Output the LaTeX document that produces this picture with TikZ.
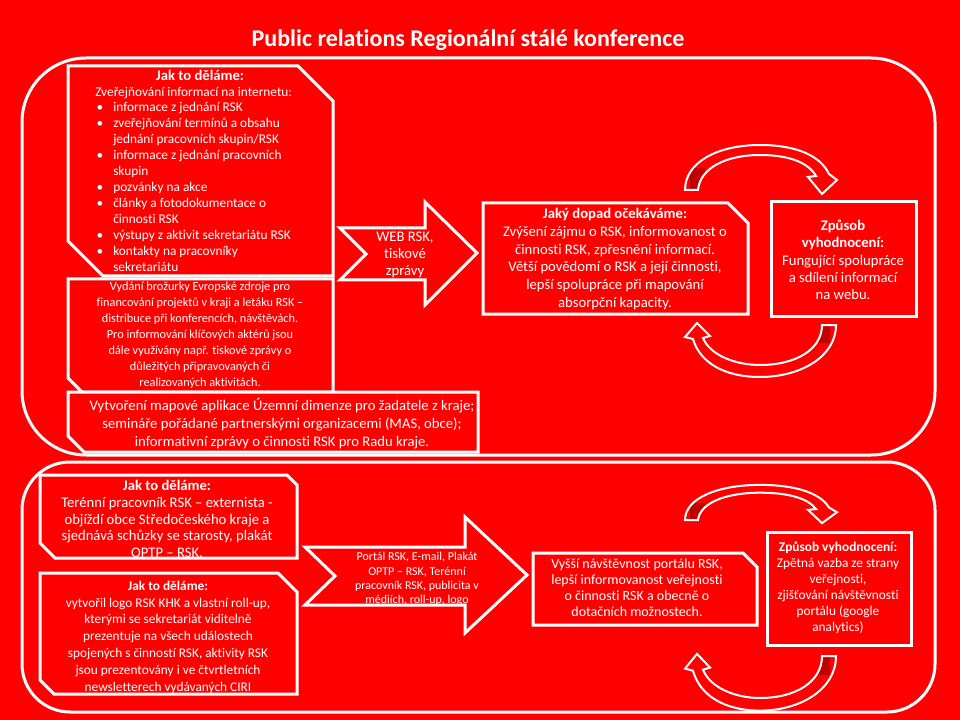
\documentclass[tikz,border=0pt]{standalone}
\usepackage{fontspec}
\setmainfont{Carlito}[Ligatures={NoCommon,NoContextual}]
\definecolor{bg}{HTML}{FF0000}
\definecolor{dk}{HTML}{C00000}
\newcommand\fs[2]{\fontsize{#1}{#2}\selectfont}
\newcommand\bline[4]{\node[txt, anchor=base west, font=\fs{10}{12}] (#1) at (#2,#3) {#4};}
\newcommand\bdot[2]{\node[txt, anchor=base, font=\fs{10}{12}] (#1) at (100,#2) {\textbullet};}
\newcommand\toparcpath{(-75,0) .. controls (-75,-28) and (-42,-45) .. (0,-45) .. controls (35,-45) and (60,-35) .. (69,-16) -- (77,-10) -- (62,4) -- (48,-13) -- (56,-14) .. controls (48,-28) and (28,-35) .. (0,-35) .. controls (-34,-35) and (-60,-22) .. (-62,0) -- cycle}
\newcommand\botarcpath{(76,0) .. controls (76,32) and (40,52) .. (0,52) .. controls (-35,52) and (-60,38) .. (-67,14) -- (-75,12) -- (-63,-2) -- (-50,11) -- (-57,13) .. controls (-50,30) and (-25,40) .. (0,40) .. controls (35,40) and (62,25) .. (62,0) -- cycle}
\tikzset{
  panel/.style={draw=white, line width=2.25pt, fill=bg, line join=miter},
  frame/.style={draw=white, line width=2.25pt},
  txt/.style={text=white, align=center, inner sep=0pt},
  arcline/.style={draw=white, line width=1.5pt, line join=miter},
}
\begin{document}
\begin{tikzpicture}[x=0.75pt,y=-0.75pt]
\fill[bg] (0,0) rectangle (960,720);
\useasboundingbox (0,0) rectangle (960,720);

\node[txt, font=\bfseries\fs{18}{21}] (title) at (468,40) {Public relations Regionální stálé konference};

% frames
\draw[frame, rounded corners=48pt] (22,58) rectangle (935,455);
\draw[frame, rounded corners=36pt] (22,462) rectangle (935,712);

% ---------- top section ----------
\draw[panel] (68,66) -- (298,66) -- (333,101) -- (333,276) -- (103,276) -- (68,241) -- cycle;
\draw[panel] (68,279) -- (333,279) -- (333,392) -- (82,392) -- (68,378) -- cycle;
\draw[panel] (68,392) -- (478,392) -- (478,452) -- (84,452) -- (68,436) -- cycle;

\node[txt, font=\bfseries\fs{11}{12}] (b1h) at (200,75) {Jak to děláme:};
\bline{l1}{95}{97}{Zveřejňování informací na internetu:}
\bdot{d1}{112}\bline{l2}{113}{112}{informace z jednání RSK}
\bdot{d2}{128}\bline{l3}{113}{128}{zveřejňování termínů  a obsahu}
\bline{l4}{113}{144}{jednání pracovních skupin/RSK}
\bdot{d3}{160}\bline{l5}{113}{160}{informace z jednání pracovních}
\bline{l6}{113}{176}{skupin}
\bdot{d4}{192}\bline{l7}{113}{192}{pozvánky na akce}
\bdot{d5}{208}\bline{l8}{113}{208}{články a fotodokumentace  o}
\bline{l9}{113}{224}{činnosti RSK}
\bdot{d6}{240}\bline{l10}{113}{240}{výstupy z aktivit sekretariátu RSK}
\bdot{d7}{256}\bline{l11}{113}{256}{kontakty na pracovníky}
\bline{l12}{113}{272}{sekretariátu}

\node[txt, font=\fs{9.2}{12}] (b2t) at (200,335) {Vydání brožurky Evropské zdroje pro\\
financování projektů v kraji a letáku RSK –\\
distribuce při konferencích, návštěvách.\\
Pro informování klíčových aktérů  jsou\\
dále využívány např. tiskové zprávy o\\
důležitých připravovaných či\\
realizovaných aktivitách.};

\node[txt, font=\fs{11}{13.5}] (b3t) at (282,424) {Vytvoření mapové aplikace Územní dimenze pro žadatele z kraje;\\
semináře pořádané partnerskými organizacemi (MAS, obce);\\
informativní zprávy o činnosti RSK pro Radu kraje.};

% notched arrow 1
\draw[panel] (340,228) -- (425,228) -- (425,202) -- (477,253) -- (425,305) -- (425,280) -- (340,280) -- (366,254) -- cycle;
\node[txt, font=\fs{11}{12.75}] (a1t) at (405,255) {WEB RSK,\\ tiskové\\ zprávy};

% impact box
\draw[panel] (483,203) -- (728,203) -- (748,223) -- (748,314) -- (483,314) -- cycle;
\node[txt, font=\fs{11}{13.3}] (dopad) at (615,259) {\textbf{Jaký dopad očekáváme:}\\
Zvýšení zájmu o RSK, informovanost o\\
činnosti RSK, zpřesnění informací.\\
Větší povědomí o RSK a  její činnosti,\\
lepší spolupráce při mapování\\
absorpční kapacity.};

% evaluation box
\draw[panel] (771,202) rectangle (916,316);
\node[txt, font=\fs{11}{13}] (vyh1) at (843,260) {\textbf{Způsob}\\ \textbf{vyhodnocení:}\\
Fungující spolupráce\\ a sdílení informací\\ na webu.};

% curved arrows top section
\begin{scope}[shift={(760,190)}]
  \fill[bg] \toparcpath;
  \begin{scope}\clip \toparcpath; \fill[dk] (-70,-22) rectangle (-55,3); \end{scope}
  \draw[arcline] \toparcpath;
\end{scope}
\begin{scope}[shift={(760,325)}]
  \fill[bg] \botarcpath;
  \begin{scope}\clip \botarcpath; \fill[dk] (58,-3) rectangle (70,18); \end{scope}
  \draw[arcline] \botarcpath;
\end{scope}

% ---------- bottom section ----------
\draw[panel] (40,475) -- (287,475) -- (297,485) -- (297,558) -- (55,558) -- (40,543) -- cycle;
\node[txt, font=\fs{11}{12.5}] (bAt) at (167,519) {\textbf{Jak to děláme:}\\
Terénní pracovník RSK – externista -\\
objíždí obce Středočeského kraje a\\
sjednává schůzky se starosty, plakát\\
OPTP – RSK.};

\draw[panel] (40,573) -- (278,573) -- (297,592) -- (297,694) -- (54,694) -- (40,680) -- cycle;
\node[txt, font=\fs{10}{12.6}] (bBt) at (168,637) {\textbf{Jak to děláme:}\\
vytvořil logo RSK KHK a vlastní roll-up,\\
kterými se sekretariát viditelně\\
prezentuje na všech událostech\\
spojených  s činností  RSK, aktivity RSK\\
jsou  prezentovány i ve čtvrtletních\\
newsletterech vydávaných CIRI};

% notched arrow 2
\draw[panel] (305,547) -- (465,547) -- (465,517) -- (527,575) -- (465,633) -- (465,605) -- (305,605) -- (335,576) -- cycle;
\node[txt, font=\fs{9}{10.7}] (a2t) at (417,579) {Portál RSK, E-mail, Plakát\\
OPTP – RSK, Terénní\\
pracovník RSK, publicita v\\
médiích, roll-up, logo};

\draw[panel] (533,553) -- (743,553) -- (757,567) -- (757,625) -- (533,625) -- cycle;
\node[txt, font=\fs{10.5}{12}] (vyssi) at (637,588) {Vyšší návštěvnost portálu RSK,\\
lepší informovanost veřejnosti\\
o činnosti RSK a obecně o\\
dotačních možnostech.};

\draw[panel] (767,532) rectangle (911,645);
\node[txt, font=\fs{10}{12}] (vyh2) at (838,588) {\textbf{Způsob vyhodnocení:}\\
Zpětná  vazba ze strany\\
veřejnosti,\\
zjišťování návštěvnosti\\
portálu (google\\
analytics)};

% curved arrows bottom section
\begin{scope}[shift={(760,520)}, yscale=0.78]
  \fill[bg] \toparcpath;
  \begin{scope}\clip \toparcpath; \fill[dk] (-70,-22) rectangle (-55,3); \end{scope}
  \draw[arcline] \toparcpath;
\end{scope}
\begin{scope}[shift={(760,656)}, yscale=1.05]
  \fill[bg] \botarcpath;
  \begin{scope}\clip \botarcpath; \fill[dk] (58,-3) rectangle (70,18); \end{scope}
  \draw[arcline] \botarcpath;
\end{scope}
\end{tikzpicture}
\end{document}
